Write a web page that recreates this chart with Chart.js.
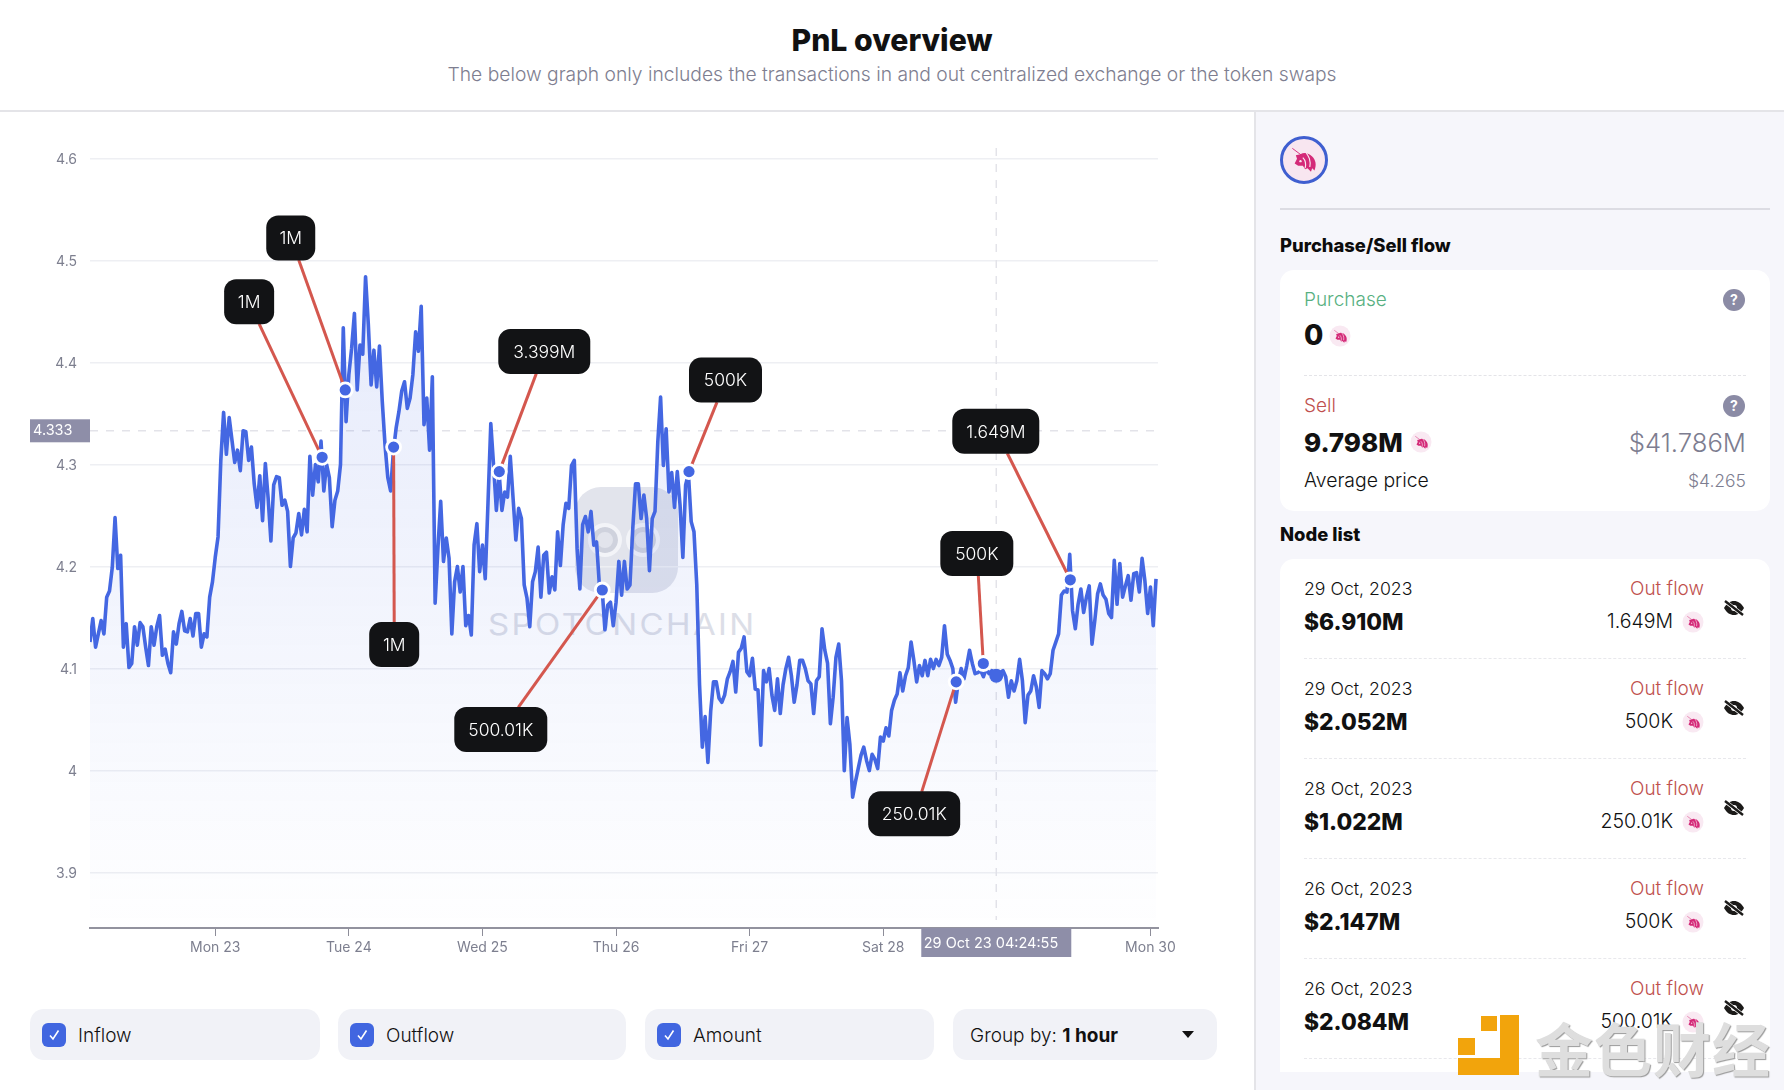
<!DOCTYPE html>
<html>
<head>
<meta charset="utf-8">
<title>PnL overview</title>
<script src="https://cdn.jsdelivr.net/npm/chart.js@4"></script>
<style>
  html, body { margin: 0; padding: 0; background: #fff; }
  body { width: 1784px; height: 1090px; overflow: hidden; position: relative; font-family: Inter, "Noto Sans", sans-serif; color: #111; }
  .abs { position: absolute; white-space: nowrap; }
  .c { transform: translateY(-50%); }
  .r { transform: translate(-100%, -50%); }
  .pill { position: absolute; top: 1009px; height: 51px; background: #f1f2f7; border-radius: 14px; }
  .check { position: absolute; left: 12px; top: 14px; width: 24px; height: 24px; border-radius: 6px; background: #4166e0; }
  .check svg { position: absolute; left: 6px; top: 6px; }
  .pill span { position: absolute; left: 48px; top: 26px; transform: translateY(-50%); font-size: 19px; font-weight: 300; }
  .uni { position: absolute; width: 21px; height: 21px; border-radius: 50%; background: #f9e9f2; transform: translate(-50%, -50%); }
</style>
</head>
<body>

<div class="abs" style="left:0;top:40px;width:1784px;text-align:center;font-size:30.2px;font-weight:800;transform:translateY(-50%)">PnL overview</div>
<div class="abs" style="left:0;top:74px;width:1784px;text-align:center;font-size:19.25px;font-weight:300;color:#7e7e90;transform:translateY(-50%)">The below graph only includes the transactions in and out centralized exchange or the token swaps</div>
<div class="abs" style="left:0;top:110px;width:1784px;height:2px;background:#e4e4e8"></div>

<!-- watermark behind the chart -->
<div class="abs" style="left:575px;top:487px;width:103px;height:106px;border-radius:26px;background:#e2e4ec"></div>
<div class="abs" style="left:592px;top:527px;width:16px;height:16px;border:5px solid #cfd2dd;outline:4px solid #f3f4f8;border-radius:50%"></div>
<div class="abs" style="left:630px;top:527px;width:16px;height:16px;border:5px solid #cfd2dd;outline:4px solid #f3f4f8;border-radius:50%"></div>
<div class="abs" style="left:488px;top:624px;font-size:30px;font-weight:400;letter-spacing:2.2px;color:#dcdee7;transform-origin:left center;transform:translateY(-50%) scaleX(1.1)">SPOTONCHAIN</div>

<canvas id="pnl" width="1240" height="888" style="position:absolute;left:0;top:112px"></canvas>

<div class="pill" style="left:30px;width:290px"><div class="check"></div><span>Inflow</span></div>
<div class="pill" style="left:338px;width:288px"><div class="check"></div><span>Outflow</span></div>
<div class="pill" style="left:645px;width:289px"><div class="check"></div><span>Amount</span></div>
<div class="pill" style="left:953px;width:264px"><span style="left:17px">Group by: <b style="font-weight:700">1 hour</b></span>
  <svg style="position:absolute;left:229px;top:22px" width="12" height="8"><path d="M0 0H12L6 7Z" fill="#111"/></svg></div>

<div class="abs" style="left:1254px;top:112px;width:2px;height:978px;background:#e4e4e8"></div>
<div class="abs" id="side" style="left:1256px;top:112px;width:528px;height:978px;background:#f6f6fb"></div>
<div id="panel"></div>

<script>
const pricesOct22 = [4.126,4.149,4.121,4.134,4.147,4.134,4.170,4.176,4.199,4.248,4.198,4.211,4.121,4.144,4.101,4.105,4.141,4.123,4.145,4.141,4.121,4.103,4.141,4.123,4.141,4.152,4.113,4.119,4.105,4.096,4.136,4.124,4.144,4.156,4.137,4.136,4.149,4.132,4.154,4.154,4.121,4.134,4.131,4.170,4.185];
const pricesOct23 = [4.209,4.229,4.304,4.351,4.310,4.346,4.324,4.302,4.314,4.294,4.333,4.332,4.304,4.317,4.281,4.258,4.289,4.245,4.301,4.267,4.225,4.280,4.288,4.287,4.260,4.265,4.254,4.200,4.228,4.233,4.252,4.231,4.256,4.234,4.308,4.270,4.300,4.283,4.323,4.274,4.300,4.287,4.239,4.265,4.274,4.300,4.434,4.342];
const pricesOct24 = [4.388,4.414,4.448,4.373,4.417,4.408,4.484,4.437,4.378,4.412,4.376,4.416,4.362,4.319,4.287,4.274,4.313,4.336,4.352,4.372,4.381,4.355,4.365,4.388,4.430,4.411,4.455,4.339,4.365,4.314,4.386,4.164,4.218,4.264,4.205,4.228,4.208,4.134,4.185,4.200,4.175,4.200,4.142,4.152,4.133,4.221,4.242,4.195];
const pricesOct25 = [4.221,4.188,4.263,4.340,4.299,4.255,4.291,4.255,4.273,4.268,4.308,4.267,4.226,4.257,4.247,4.182,4.169,4.141,4.185,4.195,4.219,4.170,4.211,4.214,4.174,4.190,4.177,4.234,4.201,4.241,4.262,4.257,4.299,4.304,4.218,4.178,4.241,4.249,4.234,4.254,4.221,4.224,4.182,4.178,4.138,4.162,4.165,4.142];
const pricesOct26 = [4.165,4.205,4.172,4.205,4.178,4.182,4.237,4.281,4.281,4.247,4.270,4.247,4.196,4.247,4.254,4.322,4.366,4.299,4.335,4.273,4.292,4.258,4.293,4.260,4.209,4.280,4.291,4.244,4.234,4.182,4.084,4.023,4.053,4.008,4.058,4.087,4.087,4.071,4.067,4.074,4.090,4.097,4.107,4.077,4.116,4.120,4.131,4.097];
const pricesOct27 = [4.093,4.110,4.080,4.079,4.025,4.098,4.087,4.100,4.074,4.059,4.090,4.056,4.084,4.100,4.111,4.093,4.067,4.084,4.108,4.108,4.100,4.088,4.085,4.056,4.088,4.092,4.139,4.118,4.105,4.046,4.072,4.111,4.124,4.088,4.000,4.052,4.026,3.974,3.989,4.002,4.015,4.023,4.010,4.000,4.016,4.011,4.002,4.033];
const pricesOct28 = [4.029,4.042,4.034,4.059,4.069,4.075,4.096,4.078,4.093,4.101,4.126,4.108,4.087,4.103,4.093,4.108,4.093,4.109,4.100,4.109,4.103,4.111,4.142,4.114,4.108,4.100,4.067,4.088,4.100,4.090,4.103,4.118,4.105,4.095,4.096,4.098,4.092,4.100,4.095,4.098,4.092,4.095,4.096,4.098,4.092,4.072,4.088,4.078];
const pricesOct29 = [4.088,4.109,4.088,4.047,4.074,4.078,4.093,4.082,4.062,4.098,4.095,4.090,4.095,4.118,4.126,4.134,4.172,4.176,4.175,4.212,4.157,4.139,4.163,4.178,4.155,4.170,4.181,4.124,4.147,4.173,4.183,4.172,4.168,4.154,4.150,4.206,4.163,4.203,4.170,4.181,4.191,4.167,4.193,4.194,4.175,4.208,4.186,4.154];
const pricesOct30 = [4.180,4.142,4.188];

// time axis is in days, 0 = Mon 23 Oct 00:00
const firstDay = -0.9375;
const lastDay = 7.0565;
const stepDays = 1 / 48;
const tickDays = [0, 1, 2, 3, 4, 5, 7];
const tickLabels = ['Mon 23', 'Tue 24', 'Wed 25', 'Thu 26', 'Fri 27', 'Sat 28', 'Mon 30'];
const priceTicks = [3.9, 4, 4.1, 4.2, 4.3, 4.4, 4.5, 4.6];

// transfers marked on the line
const nodeDays = [0.80, 0.973, 1.335, 2.126, 2.897, 3.546, 5.546, 5.749, 6.40];
const nodePrices = [4.307, 4.373, 4.317, 4.293, 4.177, 4.293, 4.087, 4.105, 4.187];
const nodeLabels = ['1M', '1M', '1M', '3.399M', '500.01K', '500K', '250.01K', '500K', '1.649M'];

// crosshair
const cursorDay = 5.846;
const cursorPrice = 4.333;
const cursorMarkerPrice = 4.093;
const cursorTimeLabel = '29 Oct 23 04:24:55';
const cursorPriceLabel = '4.333';

// where each callout box sits relative to its node: dx, dy, width, line x inside box
const calloutLayout = [
  [-73, -155.5, 50, 10],
  [-54.5, -152, 49, 8],
  [0.6, 197.5, 50, 0],
  [45, -120, 92, -8],
  [-101.5, 139.5, 93, 17.5],
  [36.5, -91.5, 73, -8.5],
  [-42, 132, 92, 7.5],
  [-6.5, -110, 73, 1.5],
  [-74.5, -148.5, 87, 11.5]
];

// side panel
const listDates = ['29 Oct, 2023', '29 Oct, 2023', '28 Oct, 2023', '26 Oct, 2023', '26 Oct, 2023'];
const listUsd = ['$6.910M', '$2.052M', '$1.022M', '$2.147M', '$2.084M'];
const listAmounts = ['1.649M', '500K', '250.01K', '500K', '500.01K'];

const allPrices = [].concat(pricesOct22, pricesOct23, pricesOct24, pricesOct25, pricesOct26, pricesOct27, pricesOct28, pricesOct29, pricesOct30);
const pricePoints = allPrices.map((p, i) => ({ x: firstDay + i * stepDays, y: p }));
const nodePoints = nodeDays.map((d, i) => ({ x: d, y: nodePrices[i] }));

const blue = '#4467e2';
const uiFont = 'Inter, "Noto Sans", sans-serif';

function roundBox(ctx, x, y, w, h, r) {
  ctx.beginPath();
  ctx.roundRect(x, y, w, h, r);
  ctx.fill();
}

const pnlExtras = {
  id: 'pnlExtras',
  beforeDatasetsDraw(chart) {
    let ctx = chart.ctx, a = chart.chartArea;
    let cx = chart.scales.x.getPixelForValue(cursorDay);
    let cy = chart.scales.y.getPixelForValue(cursorPrice);
    ctx.save();
    ctx.lineWidth = 1.5;
    ctx.setLineDash([8, 8]);
    ctx.strokeStyle = '#e3e3e9';
    ctx.beginPath();
    ctx.moveTo(a.left, cy);
    ctx.lineTo(a.right, cy);
    ctx.moveTo(cx, a.top);
    ctx.lineTo(cx, a.bottom - 8);
    ctx.stroke();
    ctx.restore();
  },
  beforeDatasetDraw(chart, args) {
    if (args.index !== 1) return;
    let ctx = chart.ctx;
    ctx.save();
    ctx.strokeStyle = '#d4574e';
    ctx.lineWidth = 3;
    nodePoints.forEach((p, i) => {
      let l = calloutLayout[i];
      let nx = chart.scales.x.getPixelForValue(p.x);
      let ny = chart.scales.y.getPixelForValue(p.y);
      let edge = ny + l[1] + (l[1] < 0 ? 22 : -22);
      ctx.beginPath();
      ctx.moveTo(nx, ny);
      ctx.lineTo(nx + l[0] + l[3], edge);
      ctx.stroke();
    });
    ctx.restore();
  },
  afterDatasetsDraw(chart) {
    let ctx = chart.ctx;
    ctx.save();
    ctx.textAlign = 'center';
    ctx.textBaseline = 'middle';
    ctx.font = '300 17.5px ' + uiFont;
    nodePoints.forEach((p, i) => {
      let l = calloutLayout[i];
      let bx = chart.scales.x.getPixelForValue(p.x) + l[0];
      let by = chart.scales.y.getPixelForValue(p.y) + l[1];
      ctx.fillStyle = '#121315';
      roundBox(ctx, bx - l[2] / 2, by - 22.5, l[2], 45, 12);
      ctx.fillStyle = '#fff';
      ctx.fillText(nodeLabels[i], bx, by + 1);
    });
    // crosshair labels
    let a = chart.chartArea;
    let cx = chart.scales.x.getPixelForValue(cursorDay);
    let cy = chart.scales.y.getPixelForValue(cursorPrice);
    ctx.fillStyle = '#8e8ea8';
    ctx.fillRect(30, cy - 11.5, 60, 23);
    ctx.fillRect(cx - 75, a.bottom, 150, 29);
    ctx.fillStyle = '#fff';
    ctx.font = '400 14.5px ' + uiFont;
    ctx.textAlign = 'left';
    ctx.fillText(cursorPriceLabel, 33, cy);
    ctx.fillText(cursorTimeLabel, cx - 72.5, a.bottom + 16);
    ctx.restore();
  }
};

new Chart(document.getElementById('pnl'), {
  type: 'line',
  data: {
    datasets: [
      {
        label: 'Price',
        data: pricePoints,
        order: 2,
        borderColor: blue,
        borderWidth: 3.6,
        borderJoinStyle: 'round',
        tension: 0,
        pointRadius: 0,
        fill: 'start',
        backgroundColor: (c) => {
          let a = c.chart.chartArea;
          if (!a) return 'transparent';
          let g = c.chart.ctx.createLinearGradient(0, a.top, 0, a.bottom);
          g.addColorStop(0, 'rgba(68,103,226,0.16)');
          g.addColorStop(1, 'rgba(68,103,226,0.005)');
          return g;
        }
      },
      {
        label: 'Nodes',
        data: nodePoints,
        order: 0,
        showLine: false,
        pointRadius: 7,
        pointBackgroundColor: blue,
        pointBorderColor: '#fff',
        pointBorderWidth: 2.8
      },
      {
        label: 'Cursor',
        data: [{ x: cursorDay, y: cursorMarkerPrice }],
        order: 1,
        showLine: false,
        pointRadius: 7,
        pointBackgroundColor: blue,
        pointBorderWidth: 0
      }
    ]
  },
  plugins: [pnlExtras],
  options: {
    responsive: false,
    animation: false,
    events: [],
    layout: { padding: { top: 36, right: 82, left: 0, bottom: 0 } },
    plugins: { legend: { display: false }, tooltip: { enabled: false } },
    scales: {
      x: {
        type: 'linear',
        min: firstDay,
        max: lastDay,
        afterBuildTicks: (s) => { s.ticks = tickDays.map(v => ({ value: v })); },
        afterFit: (s) => { s.height = 72; },
        grid: { drawOnChartArea: false, drawTicks: true, tickLength: 8, color: '#8d8d99' },
        border: { display: true, color: '#92929e', width: 2 },
        ticks: {
          autoSkip: false,
          maxRotation: 0,
          padding: 3,
          color: '#7d7f8f',
          font: { family: uiFont, size: 14 },
          callback: (v) => tickLabels[tickDays.indexOf(v)]
        }
      },
      y: {
        type: 'linear',
        min: 3.8458,
        max: 4.6101,
        afterBuildTicks: (s) => { s.ticks = priceTicks.map(v => ({ value: v })); },
        afterFit: (s) => { s.width = 90; },
        grid: { drawTicks: false, color: '#eeeff3', lineWidth: 1.5 },
        border: { display: false },
        ticks: {
          padding: 13,
          labelOffset: 1,
          color: '#7d7f8f',
          font: { family: uiFont, size: 14 },
          callback: (v) => (v === 4 ? '4' : v.toFixed(1))
        }
      }
    }
  }
});

// ---- side panel and checkbox ticks, plain html ----
document.querySelectorAll('.check').forEach((el) => {
  el.innerHTML = '<svg width="12" height="12" viewBox="0 0 12 12"><path d="M2 6.5L5 10L10.5 1.5" fill="none" stroke="#fff" stroke-width="1.6"/></svg>';
});

function uniGlyph(size) {
  return '<svg width="' + size + '" height="' + size + '" viewBox="0 0 24 24" style="position:absolute;left:50%;top:50%;transform:translate(-50%,-50%)">'
    + '<path d="M2 2L10 8" stroke="#d42a78" stroke-width="0.8"/>'
    + '<path d="M9 7c3-2 7-1 10 2 3 3 4 7 2 12l-2-2-1 3-3-3-2 1-2-3-4 0-3-2 2-4-1-3z" fill="#d42a78"/>'
    + '<path d="M14 6c2 3 4 6 3 12M11 10c2 2 3 5 2 9" stroke="#f9e9f2" stroke-width="1" fill="none"/>'
    + '<circle cx="9" cy="13" r="1" fill="#f9e9f2"/></svg>';
}
function uni(x, y) {
  return '<div class="uni" style="left:' + x + 'px;top:' + y + 'px">' + uniGlyph(15) + '</div>';
}
function help(y) {
  return '<div class="abs c" style="left:1723px;top:' + y + 'px;width:22px;height:22px;border-radius:50%;background:#8b8ba5;color:#fff;font-size:14px;font-weight:700;text-align:center;line-height:22px">?</div>';
}
function eye(y) {
  return '<svg class="abs" style="left:1723px;top:' + (y - 11) + 'px" width="22" height="22" viewBox="0 0 22 22"><path d="M1 11C4 6 7 4 11 4s7 2 10 7c-3 5-6 7-10 7S4 16 1 11z" fill="#1b1a18"/><circle cx="11" cy="11" r="3" fill="#fff"/><path d="M3 5L20 18" stroke="#fff" stroke-width="4"/><path d="M2 4L20 18" stroke="#1b1a18" stroke-width="2.4"/></svg>';
}
function text(x, y, size, weight, color, str, right) {
  return '<div class="abs ' + (right ? 'r' : 'c') + '" style="left:' + x + 'px;top:' + y + 'px;font-size:' + size + 'px;font-weight:' + weight + ';color:' + color + '">' + str + '</div>';
}

let html = '';
html += '<div class="abs" style="left:1280px;top:136px;width:48px;height:48px;border-radius:50%;border:3px solid #3f5fd0;box-sizing:border-box;background:#f8e6f0">' + uniGlyph(28) + '</div>';
html += '<div class="abs" style="left:1280px;top:208px;width:490px;height:2px;background:#dcdce3"></div>';
html += text(1280, 245, 18.4, 800, '#0c0c0c', 'Purchase/Sell flow');
html += '<div class="abs" style="left:1280px;top:270px;width:490px;height:241px;border-radius:14px;background:#fff"></div>';
html += text(1304, 299, 19, 300, '#57b081', 'Purchase') + help(300);
html += text(1304, 335, 28, 800, '#111', '0') + uni(1340, 336);
html += '<div class="abs" style="left:1304px;top:375px;width:442px;border-top:1px dashed #e4e4e8"></div>';
html += text(1304, 405, 19, 300, '#c0504d', 'Sell') + help(406);
html += text(1304, 442, 26, 800, '#111', '9.798M') + uni(1421, 442);
html += text(1746, 442, 25.7, 300, '#7d7d90', '$41.786M', true);
html += text(1304, 480, 19.4, 300, '#111', 'Average price');
html += text(1746, 480, 17.5, 300, '#7d7d90', '$4.265', true);
html += text(1280, 534, 18.4, 800, '#0c0c0c', 'Node list');
html += '<div class="abs" style="left:1280px;top:559px;width:490px;height:513px;border-radius:14px 14px 0 0;background:#fff"></div>';
listDates.forEach((d, i) => {
  let o = i * 100;
  html += text(1304, 588 + o, 17.7, 300, '#111', d);
  html += text(1304, 620.5 + o, 22.8, 800, '#111', listUsd[i]);
  html += text(1704, 588 + o, 19, 300, '#c0504d', 'Out flow', true);
  html += text(1673, 621 + o, 19.5, 300, '#111', listAmounts[i], true);
  html += uni(1693, 622 + o) + eye(608 + o);
  html += '<div class="abs" style="left:1304px;top:' + (658 + o) + 'px;width:442px;border-top:1px dashed #e8e8ec"></div>';
});
// corner watermark
html += '<div class="abs" style="left:1500px;top:1015px;width:19px;height:60px;background:#f2a40c"></div>';
html += '<div class="abs" style="left:1458px;top:1058px;width:61px;height:17px;background:#f2a40c"></div>';
html += '<div class="abs" style="left:1481px;top:1016px;width:16px;height:15px;background:#f2a40c"></div>';
html += '<div class="abs" style="left:1458px;top:1038px;width:17px;height:17px;background:#f2a40c"></div>';
html += '<div class="abs" style="left:1535px;top:1047px;font-family:\'Noto Sans CJK SC\';font-size:58px;font-weight:700;letter-spacing:1px;color:#dedede;text-shadow:1px 1px 1px #9a9a9a;transform:translateY(-50%)">金色财经</div>';
document.getElementById('panel').innerHTML = html;
</script>
</body>
</html>
